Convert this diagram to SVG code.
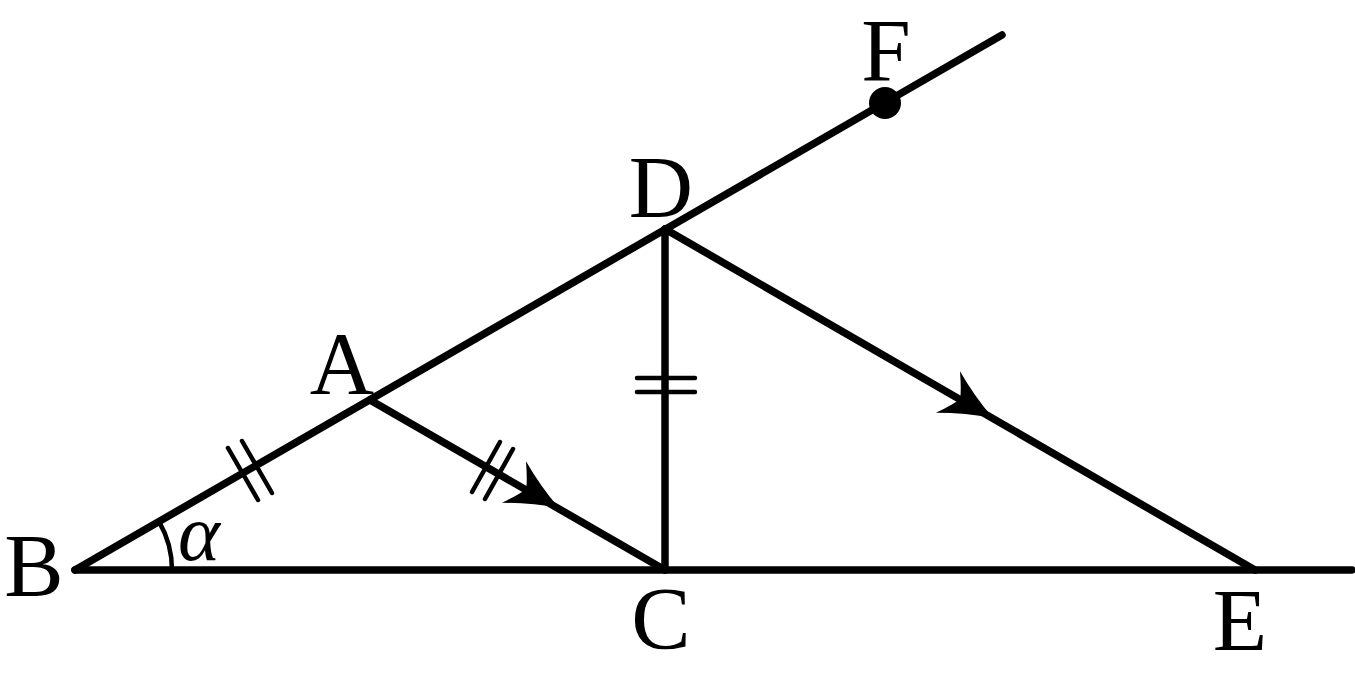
<svg xmlns="http://www.w3.org/2000/svg" width="1355" height="677" viewBox="0 0 1355 677">
<style>
.ln{stroke:#000;stroke-width:7.5;stroke-linecap:round;fill:none}
.tk{stroke:#000;stroke-width:4.5;stroke-linecap:round;fill:none}
.lb{font-family:"Liberation Serif","DejaVu Serif","Times New Roman",serif;font-size:89px;fill:#000;text-anchor:middle}
.al{font-family:"Liberation Serif","DejaVu Serif","Times New Roman",serif;font-size:80px;font-style:italic;fill:#000}
</style>
<defs>
<path id="ah" d="M0 0 Q-26 -9 -52 -24 Q-41 -8 -38 0 Q-41 8 -52 24 Q-26 9 0 0 Z" fill="#000"/>
</defs>
<rect width="1355" height="677" fill="#fff"/>
<g id="connectors">
<line class="ln" x1="75" y1="570" x2="1002" y2="35"/>
<line class="ln" x1="75" y1="570" x2="1352" y2="570"/>
<line class="ln" x1="370" y1="400" x2="665" y2="570"/>
<line class="ln" x1="665" y1="229" x2="665" y2="570"/>
<line class="ln" x1="665" y1="229" x2="1255" y2="570"/>
<use href="#ah" transform="translate(559,508) rotate(30)"/>
<use href="#ah" transform="translate(993,418) rotate(30)"/>
<g id="ticks">
<line class="tk" x1="228" y1="448" x2="258" y2="500"/>
<line class="tk" x1="242" y1="441" x2="272" y2="493"/>
<line class="tk" x1="472" y1="492" x2="500" y2="442"/>
<line class="tk" x1="485" y1="499" x2="513" y2="449"/>
<line class="tk" x1="637" y1="378" x2="695" y2="378"/>
<line class="tk" x1="637" y1="392" x2="695" y2="392"/>
</g>
<path id="angle-arc" class="tk" d="M172 570 A97 97 0 0 0 159 521.5"/>
</g>
<g id="node-B"><text class="lb" x="34" y="595">B</text></g>
<g id="node-A"><text class="lb" x="342" y="393">A</text></g>
<g id="node-C"><text class="lb" x="661" y="648">C</text></g>
<g id="node-D"><text class="lb" x="661" y="217">D</text></g>
<g id="node-E"><text class="lb" x="1240" y="650">E</text></g>
<g id="node-F"><circle cx="885" cy="103" r="16" fill="#000"/><text class="lb" x="886" y="80">F</text></g>
<g id="label-alpha"><text class="al" x="178" y="560">α</text></g>
</svg>
